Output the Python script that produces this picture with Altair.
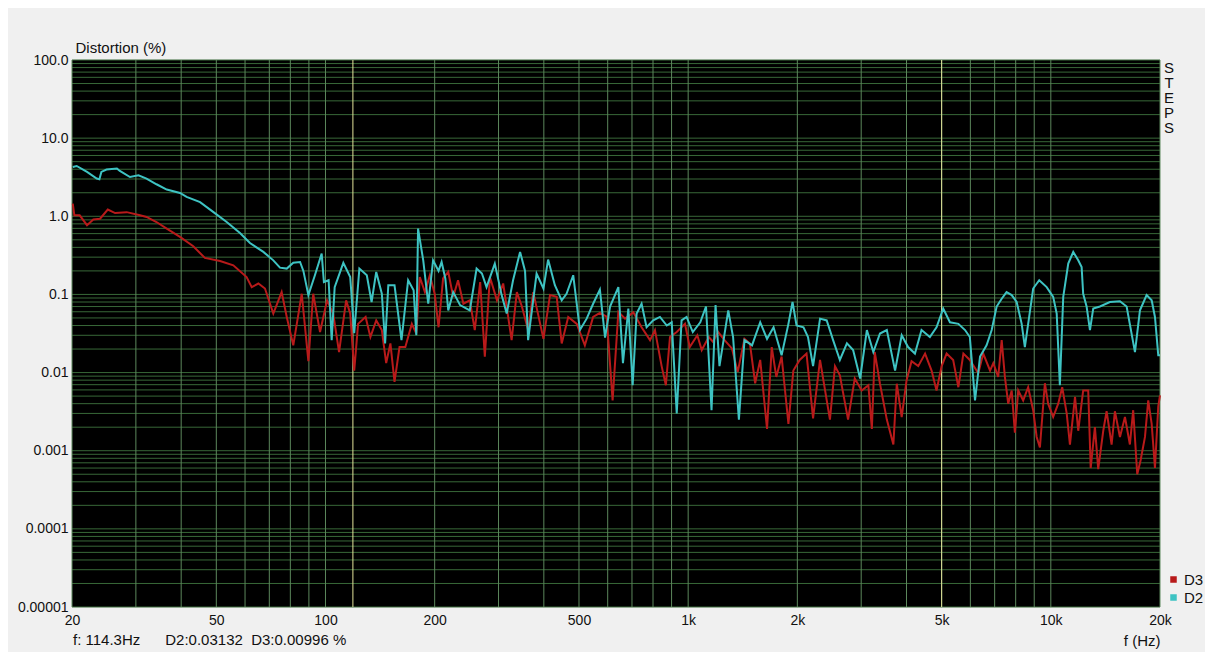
import altair as alt
import pandas as pd

# ---------------- data ----------------
freq_d2 = [
    20.1, 20.6, 22.0, 23.4, 23.8, 24.1, 24.9, 26.6, 27.1, 28.9,
    30.5, 32.1, 34.2, 36.5, 39.7, 41.4, 45.1, 49.1, 53.4, 58.1,
    61.9, 67.4, 71.8, 74.9, 78.2, 81.5, 85.1, 86.9, 89.7, 93.5,
    97.6, 99.0, 102, 104, 106, 112, 117, 120, 124, 130,
    134, 138, 143, 146, 149, 155, 162, 169, 175, 178,
    180, 186, 192, 198, 205, 209, 214, 218, 225, 235,
    250, 261, 270, 278, 293, 306, 316, 329, 344, 355,
    362, 382, 399, 411, 429, 448, 462, 482, 503, 525,
    547, 571, 590, 609, 642, 661, 684, 703, 721, 744,
    768, 801, 836, 873, 901, 930, 959, 990, 1030, 1080,
    1120, 1160, 1190, 1220, 1290, 1330, 1380, 1430, 1500, 1580,
    1650, 1720, 1810, 1890, 1940, 1990, 2080, 2140, 2210, 2310,
    2410, 2510, 2620, 2740, 2850, 2980, 3110, 3240, 3380, 3530,
    3720, 3880, 4040, 4220, 4400, 4640, 4840, 5050, 5270, 5560,
    5800, 5980, 6180, 6380, 6650, 6870, 7090, 7320, 7550, 7800,
    8050, 8310, 8480, 8660, 8940, 9290, 9740, 10150, 10380, 10590,
    10820, 11170, 11530, 11900, 12160, 12280, 12550, 12820, 13090, 13660,
    14550, 15510, 16180, 17060, 17610, 18370, 18970, 19370, 19780, 20000,
]
dist_d2 = [
    4.27, 4.4, 3.7, 3.04, 2.97, 3.7, 3.96, 4.08, 3.8, 3.18,
    3.35, 3.04, 2.57, 2.2, 1.99, 1.77, 1.52, 1.13, 0.845, 0.61,
    0.455, 0.35, 0.273, 0.22, 0.214, 0.255, 0.26, 0.2, 0.098, 0.176,
    0.333, 0.144, 0.152, 0.026, 0.124, 0.253, 0.167, 0.032, 0.214, 0.176,
    0.08, 0.194, 0.102, 0.0236, 0.131, 0.131, 0.026, 0.152, 0.113, 0.03,
    0.695, 0.273, 0.076, 0.273, 0.2, 0.26, 0.16, 0.0625, 0.107, 0.073,
    0.0625, 0.214, 0.185, 0.124, 0.248, 0.098, 0.057, 0.152, 0.35, 0.2,
    0.026, 0.185, 0.119, 0.279, 0.131, 0.084, 0.102, 0.176, 0.035, 0.049,
    0.076, 0.115, 0.028, 0.07, 0.124, 0.0132, 0.066, 0.0069, 0.057, 0.076,
    0.038, 0.0465, 0.0515, 0.04, 0.044, 0.003, 0.0465, 0.0515, 0.033, 0.044,
    0.07, 0.0033, 0.073, 0.0121, 0.0625, 0.0285, 0.0025, 0.026, 0.0223, 0.044,
    0.027, 0.038, 0.0167, 0.042, 0.08, 0.04, 0.038, 0.0285, 0.0121, 0.049,
    0.0465, 0.026, 0.0145, 0.0236, 0.0194, 0.0084, 0.035, 0.0183, 0.0316, 0.035,
    0.0106, 0.03, 0.0212, 0.0175, 0.035, 0.0285, 0.038, 0.066, 0.044, 0.042,
    0.035, 0.0285, 0.0044, 0.016, 0.0223, 0.035, 0.07, 0.088, 0.107, 0.098,
    0.08, 0.042, 0.0212, 0.042, 0.119, 0.152, 0.124, 0.093, 0.057, 0.0069,
    0.093, 0.248, 0.35, 0.273, 0.224, 0.102, 0.07, 0.035, 0.066, 0.07,
    0.08, 0.082, 0.07, 0.0183, 0.0625, 0.098, 0.084, 0.0515, 0.0167, 0.0167,
]

freq_d3 = [
    20.1, 20.3, 21.0, 22.0, 22.9, 23.9, 25.1, 26.3, 28.3, 30.8,
    32.1, 34.2, 36.5, 39.7, 43.2, 46.5, 51.2, 55.7, 60.6, 62.6,
    65.3, 68.1, 71.8, 75.7, 78.2, 81.5, 86.0, 89.7, 92.5, 96.6,
    101, 105, 109, 114, 117, 120, 123, 129, 133, 138,
    143, 147, 151, 155, 160, 166, 173, 178, 182, 188,
    194, 200, 205, 211, 218, 225, 232, 240, 250, 258,
    267, 275, 284, 297, 309, 326, 337, 348, 362, 374,
    399, 416, 434, 448, 467, 493, 519, 547, 571, 596,
    619, 642, 670, 706, 744, 785, 810, 845, 868, 891,
    930, 980, 1010, 1060, 1090, 1140, 1170, 1210, 1260, 1320,
    1370, 1430, 1480, 1530, 1580, 1650, 1700, 1750, 1810, 1890,
    1950, 2030, 2120, 2210, 2310, 2460, 2540, 2620, 2760, 2880,
    3010, 3140, 3210, 3270, 3380, 3530, 3680, 3760, 3880, 4000,
    4130, 4310, 4500, 4690, 4840, 5000, 5160, 5380, 5560, 5740,
    5980, 6310, 6510, 6800, 6940, 7160, 7320, 7470, 7630, 7800,
    7960, 8130, 8390, 8660, 8940, 9140, 9330, 9630, 9830, 10150,
    10480, 10750, 11060, 11290, 11660, 11900, 12280, 12680, 12880, 13230,
    13510, 13950, 14250, 14710, 15020, 15510, 16010, 16520, 16870, 17310,
    17690, 18180, 18560, 18970, 19370, 19780, 20000,
]
dist_d3 = [
    1.45, 1.03, 1.03, 0.77, 0.91, 0.93, 1.22, 1.1, 1.13, 1.03,
    0.98, 0.845, 0.695, 0.544, 0.413, 0.293, 0.268, 0.236, 0.167, 0.124,
    0.138, 0.119, 0.057, 0.107, 0.0515, 0.0223, 0.102, 0.014, 0.102, 0.033,
    0.084, 0.057, 0.0183, 0.084, 0.057, 0.0106, 0.042, 0.0515, 0.0285, 0.0465,
    0.035, 0.0132, 0.0236, 0.0076, 0.0212, 0.0212, 0.042, 0.0316, 0.167, 0.107,
    0.176, 0.102, 0.038, 0.16, 0.194, 0.093, 0.152, 0.076, 0.084, 0.035,
    0.144, 0.016, 0.167, 0.084, 0.138, 0.026, 0.107, 0.07, 0.035, 0.107,
    0.027, 0.098, 0.093, 0.0236, 0.0515, 0.042, 0.0223, 0.0515, 0.058, 0.052,
    0.0044, 0.06, 0.049, 0.059, 0.038, 0.026, 0.035, 0.0121, 0.0069, 0.0285,
    0.033, 0.042, 0.0212, 0.03, 0.0194, 0.0285, 0.0248, 0.033, 0.026, 0.0204,
    0.0102, 0.027, 0.0236, 0.0073, 0.0145, 0.0019, 0.0212, 0.0088, 0.016, 0.0022,
    0.0106, 0.0145, 0.0175, 0.0026, 0.0145, 0.0025, 0.0121, 0.0092, 0.0025, 0.0084,
    0.0059, 0.0069, 0.0019, 0.0183, 0.0072, 0.0025, 0.0012, 0.0072, 0.0027, 0.0079,
    0.014, 0.0121, 0.0175, 0.0106, 0.0059, 0.0121, 0.0175, 0.0145, 0.0065, 0.0175,
    0.0145, 0.0098, 0.0175, 0.0106, 0.0132, 0.0088, 0.026, 0.0088, 0.004, 0.0059,
    0.0017, 0.0059, 0.0044, 0.0065, 0.0033, 0.0015, 0.0011, 0.0073, 0.004, 0.0027,
    0.004, 0.0065, 0.003, 0.0012, 0.0049, 0.0018, 0.0059, 0.0059, 0.0006, 0.002,
    0.00058, 0.0018, 0.0032, 0.0012, 0.0032, 0.0015, 0.0027, 0.0012, 0.0033, 0.0005,
    0.00076, 0.0015, 0.0044, 0.0022, 0.0006, 0.0037, 0.0051,
]

series_names = ["D3", "D2"]
series_colors = ["#B81A1A", "#3EC3C3"]

x_tick_values = [20, 50, 100, 200, 500, 1000, 2000, 5000, 10000, 20000]
x_tick_labels = ["20", "50", "100", "200", "500", "1k", "2k", "5k", "10k", "20k"]
y_tick_values = [0.00001, 0.0001, 0.001, 0.01, 0.1, 1, 10, 100]
y_tick_labels = ["0.00001", "0.0001", "0.001", "0.01", "0.1", "1.0", "10.0", "100.0"]

cursor_freqs = [119, 5000]
readout = "f: 114.3Hz" + "\u00a0" * 6 + "D2:0.03132" + "\u00a0\u00a0" + "D3:0.00996 %"
side_label = "S\nT\nE\nP\nS"

# grid positions (1..9 per decade)
x_grid = [k * 10 ** e for e in range(1, 4) for k in range(1, 10) if 20 <= k * 10 ** e <= 20000] + [10000, 20000]
y_grid = [round(k * 10.0 ** e, 8) for e in range(-5, 2) for k in range(1, 10)] + [100]

# ---------------- chart ----------------
FONT = "Liberation Sans"
TXT = "#111111"


def label_expr(values, labels):
    return "".join(f"datum.value == {v} ? '{l}' : " for v, l in zip(values, labels)) + "''"


xscale = alt.Scale(type="log", domain=[20, 20000], nice=False)
yscale = alt.Scale(type="log", domain=[0.00001, 100], nice=False)

xaxis = alt.Axis(
    values=x_tick_values, labelExpr=label_expr(x_tick_values, x_tick_labels),
    grid=False, ticks=False, domain=False, labelFont=FONT, labelFontSize=14,
    labelColor=TXT, labelPadding=6, labelFlush=False, labelOverlap=False,
    title="f (Hz)", titleFont=FONT, titleFontSize=15, titleFontWeight="normal",
    titleColor=TXT, titleX=1088, titleY=33, titleAlign="right", titleBaseline="middle",
)
yaxis = alt.Axis(
    values=y_tick_values, labelExpr=label_expr(y_tick_values, y_tick_labels),
    grid=False, ticks=False, domain=False, labelFont=FONT, labelFontSize=14,
    labelColor=TXT, labelPadding=4, labelOverlap=False, labelFlush=False,
    title="Distortion (%)", titleFont=FONT, titleFontSize=15, titleFontWeight="normal",
    titleColor=TXT, titleAngle=0, titleX=3, titleY=-8, titleAlign="left",
    titleBaseline="alphabetic",
)


def X():
    return alt.X("f:Q", scale=xscale, axis=xaxis)


def Y():
    return alt.Y("d:Q", scale=yscale, axis=yaxis)


color = alt.Color(
    "series:N",
    scale=alt.Scale(domain=series_names, range=series_colors),
    legend=alt.Legend(
        orient="none", legendX=1094, legendY=512, title=None,
        symbolType="square", symbolSize=9, symbolStrokeWidth=3.5,
        labelFont=FONT, labelFontSize=15, labelColor=TXT, labelOffset=3,
        rowPadding=1, padding=0,
    ),
)

df_xg = pd.DataFrame({"f": x_grid})
df_yg = pd.DataFrame({"d": y_grid})
df_cur = pd.DataFrame({"f": cursor_freqs})
df_d2 = pd.DataFrame({"f": freq_d2, "d": dist_d2, "series": "D2"})
df_d3 = pd.DataFrame({"f": freq_d3, "d": dist_d3, "series": "D3"})
df_side = pd.DataFrame({"f": [20000], "d": [100], "t": [side_label]})
df_read = pd.DataFrame({"f": [20], "d": [0.00001], "t": [readout]})

hgrid = alt.Chart(df_yg).mark_rule(color="#386838", strokeWidth=1).encode(y=Y())
vgrid = alt.Chart(df_xg).mark_rule(color="#5C875C", strokeWidth=1).encode(x=X())
cursors = alt.Chart(df_cur).mark_rule(color="#E4E49A", strokeWidth=1).encode(x=X())

line_d3 = alt.Chart(df_d3).mark_line(strokeWidth=2).encode(x=X(), y=Y(), color=color)
line_d2 = alt.Chart(df_d2).mark_line(strokeWidth=2).encode(x=X(), y=Y(), color=color)

side = alt.Chart(df_side).mark_text(
    align="center", baseline="top", dx=9, dy=1, font=FONT, fontSize=15,
    lineHeight=15, lineBreak="\n", color=TXT,
).encode(x=X(), y=Y(), text="t:N")

read = alt.Chart(df_read).mark_text(
    align="left", baseline="middle", dx=1, dy=33, font=FONT, fontSize=15, color=TXT,
).encode(x=X(), y=Y(), text="t:N")

chart = (
    alt.layer(hgrid, vgrid, cursors, line_d3, line_d2, side, read)
    .properties(
        width=1088, height=547,
        padding={"left": 64, "top": 52, "right": 45, "bottom": 45},
        autosize=alt.AutoSizeParams(type="none"),
        background="#F0F0F0",
        view=alt.ViewBackground(fill="black", strokeWidth=0),
    )
    .configure(font=FONT)
    .configure_view(fill="black", strokeWidth=0)
)

chart.save("out.html", embed_options={"renderer": "svg", "actions": False})
